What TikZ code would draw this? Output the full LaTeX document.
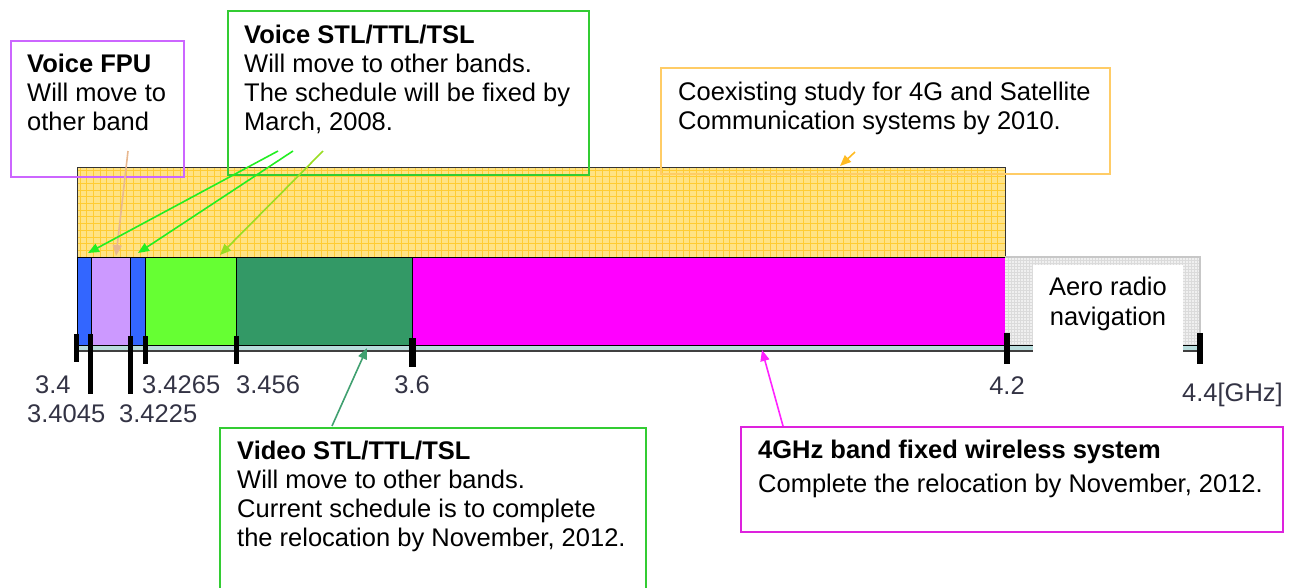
\documentclass[tikz,border=0pt]{standalone}
\usepackage{fontspec}
\setmainfont{Liberation Sans}
\usetikzlibrary{arrows.meta,calc}
\definecolor{bblue}{HTML}{3366FF}
\definecolor{blav}{HTML}{CC99FF}
\definecolor{bgreen}{HTML}{66FF33}
\definecolor{bdgreen}{HTML}{339966}
\definecolor{bmag}{HTML}{FF00FF}
\definecolor{yfill}{HTML}{FFE385}
\definecolor{ygrid}{HTML}{FFCC33}
\definecolor{axisc}{HTML}{B8DCDC}
\definecolor{fpuc}{HTML}{CC66FF}
\definecolor{stlc}{HTML}{33CC33}
\definecolor{coexc}{HTML}{FFCC66}
\definecolor{fwc}{HTML}{DD22DD}
\definecolor{fpuarr}{HTML}{E8B890}
\definecolor{garr}{HTML}{22EE22}
\definecolor{garrb}{HTML}{99DD22}
\definecolor{coexarr}{HTML}{FFBB22}
\definecolor{varr}{HTML}{40A070}
\definecolor{fwarr}{HTML}{FF22FF}
\definecolor{lblc}{HTML}{333344}
\tikzset{
  band/.style={draw=black, line width=1.2pt, inner sep=0pt, minimum height=88pt, anchor=north west},
  infobox/.style={draw, line width=2pt, inner sep=0pt, anchor=north west},
  boxtext/.style={inner sep=0pt, anchor=base west, align=left, font=\fontsize{25.5}{29}\selectfont},
  ticklbl/.style={inner sep=0pt, text=lblc, font=\fontsize{25.5}{29}\selectfont},
  tickmark/.style={line width=5pt, black},
  callout/.style={line width=1.6pt, -{Triangle[length=11pt,width=9pt]}}
}
\begin{document}
\begin{tikzpicture}[x=1pt,y=-1pt]
\clip (0,0) rectangle (1301,587);
\useasboundingbox (0,0) rectangle (1301,587);
% yellow hatched region (4G / satellite)
\fill[yfill] (77,167) rectangle (1005,257);
\foreach \gx in {80,86.7,...,1004} \draw[ygrid, line width=0.9pt] (\gx,167) -- (\gx,257);
\foreach \gy in {170,176.7,...,256} \draw[ygrid, line width=0.9pt] (77,\gy) -- (1005,\gy);
\draw[black!80, line width=1pt] (77,257) -- (77,167) -- (1005,167) -- (1005,257);
% bands
\node[band, fill=bblue, minimum width=14pt] (b1) at (77,257) {};
\node[band, fill=blav, minimum width=39pt] (b2) at (91,257) {};
\node[band, fill=bblue, minimum width=15pt] (b3) at (130,257) {};
\node[band, fill=bgreen, minimum width=91pt] (b4) at (145,257) {};
\node[band, fill=bdgreen, minimum width=176pt] (b5) at (236,257) {};
\node[band, fill=bmag, minimum width=593pt] (b6) at (412,257) {};
% aero radio navigation region
\fill[black!6] (1005,257) rectangle (1200,345);
\foreach \gx in {1008,1011,...,1199} \draw[black!14, line width=0.5pt] (\gx,257) -- (\gx,345);
\foreach \gy in {260,263,...,344} \draw[black!14, line width=0.5pt] (1005,\gy) -- (1200,\gy);
\draw[black!22, line width=1.5pt] (1005,257) -- (1200,257) -- (1200,345);
% axis strip
\fill[axisc] (77,345) rectangle (1200,351);
\draw[black, line width=1pt] (77,345) -- (1200,345);
\draw[black!75, line width=1.2pt] (77,351) -- (1200,351);
% white label area
\fill[white] (1033,265) rectangle (1183,353);
\node[inner sep=0pt, anchor=base, align=center, font=\fontsize{25.5}{30}\selectfont] (aero) at (1108,325) {Aero radio\\navigation};
% ticks
\draw[tickmark] (76,334) -- (76,362);
\draw[tickmark] (90.5,334) -- (90.5,394);
\draw[tickmark] (130.5,336) -- (130.5,394);
\draw[tickmark] (145.5,336) -- (145.5,364);
\draw[tickmark] (236,336) -- (236,364);
\draw[tickmark, line width=7pt] (412,338) -- (412,367);
\draw[tickmark, line width=6pt] (1007,333) -- (1007,364);
\draw[tickmark, line width=6pt] (1200,333) -- (1200,364);
% tick labels
\node[ticklbl, anchor=base west] (l1) at (35,393) {3.4};
\node[ticklbl, anchor=base west] (l2) at (27,422) {3.4045};
\node[ticklbl, anchor=base west] (l3) at (119,422) {3.4225};
\node[ticklbl, anchor=base west] (l4) at (142,393) {3.4265};
\node[ticklbl, anchor=base west] (l5) at (236,393) {3.456};
\node[ticklbl, anchor=base] (l6) at (412,393) {3.6};
\node[ticklbl, anchor=base] (l7) at (1007,394) {4.2};
\node[ticklbl, anchor=base west] (l8) at (1182,401) {4.4[GHz]};
% info boxes (text nodes anchored at the baseline of their last line)
\node[infobox, draw=fpuc, minimum width=173pt, minimum height=136pt] (fpu) at (10,40) {};
\node[boxtext] (fputxt) at (27,130) {\textbf{Voice FPU}\\Will move to\\other band};
\node[infobox, draw=stlc, minimum width=361pt, minimum height=164pt] (stl) at (227,10) {};
\node[boxtext] (stltxt) at (244,130) {\textbf{Voice STL/TTL/TSL}\\Will move to other bands.\\The schedule will be fixed by\\March, 2008.};
\node[infobox, draw=coexc, minimum width=449pt, minimum height=106pt] (coex) at (660,67) {};
\node[boxtext] (coextxt) at (678,129) {Coexisting study for 4G and Satellite\\Communication systems by 2010.};
\node[infobox, draw=stlc, minimum width=426pt, minimum height=200pt] (video) at (219,427) {};
\node[boxtext] (videotxt) at (237,546) {\textbf{Video STL/TTL/TSL}\\Will move to other bands.\\Current schedule is to complete\\the relocation by November, 2012.};
\node[infobox, draw=fwc, minimum width=542pt, minimum height=105pt] (fw) at (740,426) {};
\node[boxtext] (fwtxt) at (758,492) {\textbf{4GHz band fixed wireless system}\\[5pt]Complete the relocation by November, 2012.};
% callout arrows
\coordinate (sfpu) at (128,151);
\coordinate (efpu) at (116,256);
\coordinate (s1) at (278,151);
\coordinate (e1) at (88,253);
\coordinate (s2) at (293,151);
\coordinate (e2) at (138,253);
\coordinate (s3) at (323,151);
\coordinate (e3) at (220,255);
\coordinate (sco) at (855,152);
\coordinate (eco) at (840,166);
\coordinate (sv) at (332,426);
\coordinate (ev) at (367,348);
\coordinate (sf) at (783,426);
\coordinate (ef) at (762,350);
\draw[callout, fpuarr] (sfpu) -- (efpu);
\draw[callout, garr] (s1) -- (e1);
\draw[callout, garr] (s2) -- (e2);
\draw[callout, garrb] (s3) -- (e3);
\draw[callout, coexarr] (sco) -- (eco);
\draw[callout, varr] (sv) -- (ev);
\draw[callout, fwarr] (sf) -- (ef);
\end{tikzpicture}
\end{document}
